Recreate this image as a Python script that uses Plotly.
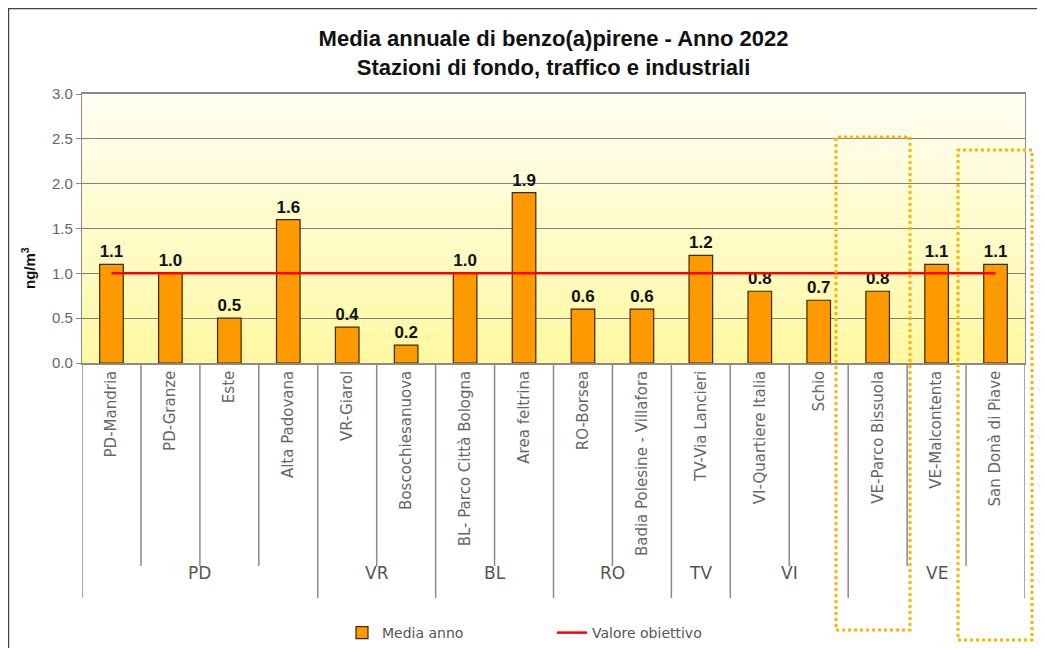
import plotly.graph_objects as go

# dati
stazioni = ["PD-Mandria", "PD-Granze", "Este", "Alta Padovana", "VR-Giarol", "Boscochiesanuova",
            "BL- Parco Città Bologna", "Area feltrina", "RO-Borsea", "Badia Polesine - Villafora",
            "TV-Via Lancieri", "VI-Quartiere Italia", "Schio", "VE-Parco Bissuola",
            "VE-Malcontenta", "San Donà di Piave"]
media_anno = [1.1, 1.0, 0.5, 1.6, 0.4, 0.2, 1.0, 1.9, 0.6, 0.6, 1.2, 0.8, 0.7, 0.8, 1.1, 1.1]
valore_obiettivo = [1.0, 1.0, 1.0, 1.0, 1.0, 1.0, 1.0, 1.0, 1.0, 1.0, 1.0, 1.0, 1.0, 1.0, 1.0, 1.0]
province = ["PD", "VR", "BL", "RO", "TV", "VI", "VE"]
n_per_provincia = [4, 2, 2, 2, 1, 2, 3]

FONT = "Liberation Sans, Arial, sans-serif"
FONT_W = "DejaVu Sans, Liberation Sans, sans-serif"
idx = list(range(len(stazioni)))

# la pagina ha 8px di margine: la figura occupa 1037x640
W, H = 1037, 640
ML, MR, MT, MB = 74, 20, 86, 285
PW, PH = W - ML - MR, H - MT - MB


def px_x(x):
    # pixel della pagina -> coordinate paper
    return (x - 8 - ML) / PW


def px_y(y):
    return (H - MB - (y - 8)) / PH


fig = go.Figure()
fig.add_trace(go.Bar(
    x=idx, y=media_anno, name="Media anno", width=0.4,
    marker=dict(color="#FF9900", line=dict(color="#3a2a00", width=1.2)),
    texttemplate="<b>%{y:.1f}</b>", textposition="outside",
    textfont=dict(family=FONT, size=17, color="#111111"),
    cliponaxis=False,
))
fig.add_trace(go.Scatter(
    x=idx, y=valore_obiettivo, name="Valore obiettivo", mode="lines",
    line=dict(color="#FF0000", width=2.5),
))

shapes = []
# sfondo sfumato (da giallo in basso a crema in alto)
nb = 40
c0 = (255, 248, 160)
c1 = (255, 254, 242)
for i in range(nb):
    t = i / (nb - 1)
    r = round(c0[0] + (c1[0] - c0[0]) * t)
    g = round(c0[1] + (c1[1] - c0[1]) * t)
    b = round(c0[2] + (c1[2] - c0[2]) * t)
    shapes.append(dict(type="rect", xref="paper", yref="paper", x0=0, x1=1,
                       y0=i / nb, y1=(i + 1) / nb, fillcolor=f"rgb({r},{g},{b})",
                       line=dict(width=0), layer="below"))

# separatori asse categorie
bounds = [-0.5]
for n in n_per_provincia:
    bounds.append(bounds[-1] + n)
for k in range(len(stazioni) + 1):
    pos = k - 0.5
    is_group = pos in bounds
    shapes.append(dict(type="line", xref="x", yref="paper", x0=pos, x1=pos,
                       y0=0, y1=px_y(598) if is_group else px_y(566),
                       line=dict(color="#8a8a8a", width=1.5)))

# etichette province
annotations = []
start = 0
for p, n in zip(province, n_per_provincia):
    annotations.append(dict(x=start + (n - 1) / 2, y=px_y(585), xref="x", yref="paper",
                            text=p, showarrow=False,
                            font=dict(family=FONT_W, size=17, color="#555555")))
    start += n

# titolo asse y
annotations.append(dict(x=px_x(28), xref="paper", y=px_y(268), yref="paper",
                        xanchor="center", yanchor="middle",
                        text="<b>ng/m<sup>3</sup></b>", textangle=-90, showarrow=False,
                        font=dict(family=FONT, size=15, color="#111111")))

# cornice esterna
shapes.append(dict(type="rect", xref="paper", yref="paper", x0=px_x(8), x1=px_x(1040),
                   y0=px_y(660), y1=px_y(8), line=dict(color="#444444", width=2.5)))
# riquadri tratteggiati
shapes.append(dict(type="rect", xref="paper", yref="paper", x0=px_x(836), x1=px_x(910),
                   y0=px_y(630), y1=px_y(137), line=dict(color="#FFB300", width=3, dash="dot")))
shapes.append(dict(type="rect", xref="paper", yref="paper", x0=px_x(958), x1=px_x(1032),
                   y0=px_y(640), y1=px_y(150), line=dict(color="#FFB300", width=3, dash="dot")))

fig.update_layout(
    width=W, height=H,
    margin=dict(l=ML, r=MR, t=MT, b=MB, autoexpand=False),
    paper_bgcolor="white", plot_bgcolor="rgba(0,0,0,0)",
    font=dict(family=FONT, color="#555555"),
    title=dict(text="<b>Media annuale di benzo(a)pirene - Anno 2022</b><br><b>Stazioni di fondo, traffico e industriali</b>",
               x=0.5, xref="paper", xanchor="center", y=1 - 38 / H, yref="container", yanchor="top",
               font=dict(family=FONT, size=22, color="#111111")),
    bargap=0.6,
    showlegend=True,
    legend=dict(orientation="h", x=px_x(342), xanchor="left", y=px_y(633), yanchor="middle",
                font=dict(family=FONT_W, size=14, color="#555555"), entrywidth=165,
                bgcolor="rgba(0,0,0,0)"),
    shapes=shapes,
    annotations=annotations,
)
fig.update_xaxes(
    tickmode="array", tickvals=idx, ticktext=stazioni, tickangle=-90,
    range=[-0.5, len(stazioni) - 0.5], showgrid=False, zeroline=False, automargin=False,
    tickfont=dict(family=FONT_W, size=15, color="#666666"),
    showline=True, linecolor="#8a8a8a", linewidth=1.5, mirror=True,
)
fig.update_yaxes(
    range=[0, 3], dtick=0.5, tickformat=".1f", automargin=False,
    showgrid=True, gridcolor="#808080", gridwidth=1.2, zeroline=False,
    ticks="outside", ticklen=5, tickcolor="#8a8a8a",
    tickfont=dict(family=FONT, size=15, color="#666666"),
    showline=True, linecolor="#8a8a8a", linewidth=1.2, mirror=True,
)

fig.write_html("out.html")
